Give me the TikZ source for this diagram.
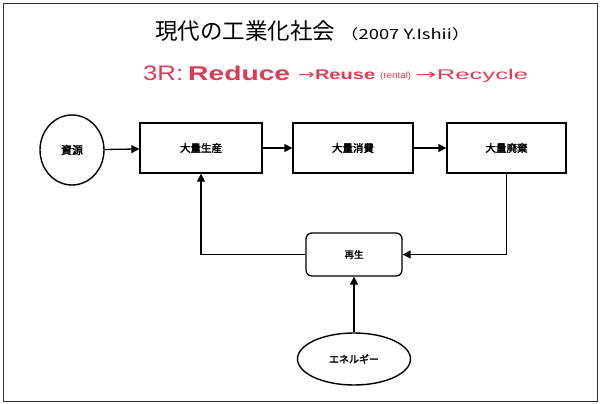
\documentclass[tikz,border=0pt]{standalone}
\usepackage{fontspec}
\setmainfont{Liberation Sans}
\newfontfamily\jp[AutoFakeBold=2.5]{Noto Sans CJK JP}
\newfontfamily\arrfont{DejaVu Sans}
\usetikzlibrary{arrows.meta,shapes.geometric}
\definecolor{redtxt}{RGB}{222,60,85}
\tikzset{
  lbl/.style={font=\jp\bfseries\fontsize{#1}{#1}\selectfont},
  box/.style={draw,line width=1.3pt,minimum width=#1,minimum height=50pt,inner sep=0pt,lbl=10.5},
  oval/.style={draw,ellipse,line width=1.4pt,inner sep=0pt},
  conn/.style={line width=1.3pt,-{Triangle[length=8pt,width=8pt]}},
  red/.style={anchor=base west,inner sep=0pt,text=redtxt}
}
\begin{document}
\begin{tikzpicture}[x=1pt,y=-1pt]
\useasboundingbox (0,0) rectangle (600,404);
\draw[line width=0.8pt,black!80] (3,3) rectangle (597,401);
\node[anchor=base west,inner sep=0pt] (title) at (155,40) {\jp\fontsize{22.5}{24}\selectfont 現代の工業化社会};
\node[anchor=base west,inner sep=0pt] (author) at (340,40) {\resizebox{130pt}{\height}{\jp\fontsize{14}{15}\selectfont （2007 Y.Ishii）}};
\node[red] (three) at (143,81) {\resizebox{40pt}{\height}{\fontsize{21}{22}\selectfont 3R:}};
\node[red] (reduce) at (188,81) {\resizebox{102pt}{\height}{\fontsize{20}{22}\selectfont\bfseries Reduce}};
\node[red] (reuse) at (298,80) {\resizebox{77pt}{\height}{\fontsize{14}{15}\selectfont{\arrfont →}\bfseries Reuse}};
\node[red] (rental) at (380,79) {\resizebox{31pt}{\height}{\fontsize{9}{10}\selectfont (rental)}};
\node[red] (recycle) at (415,80) {\resizebox{113pt}{\height}{\fontsize{14}{15}\selectfont{\arrfont →}Recycle}};
\node[oval,minimum width=64pt,minimum height=70pt,lbl=11] (shigen) at (72,150) {資源};
\node[box=122pt] (seisan) at (201,148) {大量生産};
\node[box=120pt] (shohi) at (353,148) {大量消費};
\node[box=119pt] (haiki) at (506.5,148) {大量廃棄};
\node[draw,rounded corners=6pt,line width=1.3pt,minimum width=96pt,minimum height=43pt,inner sep=0pt,lbl=9.5] (saisei) at (354,254.5) {再生};
\node[oval,minimum width=113pt,minimum height=52pt,lbl=10] (energy) at (354,359) {エネルギー};
\draw[conn] (shigen) -- (seisan);
\draw[conn] (seisan) -- (shohi);
\draw[conn] (shohi) -- (haiki);
\draw[conn] (haiki.south) -- (haiki.south |- saisei.east) -- (saisei.east);
\draw[conn] (saisei.west) -- (seisan.south |- saisei.west) -- (seisan.south);
\draw[conn] (energy.north) -- (saisei.south);
\end{tikzpicture}
\end{document}
